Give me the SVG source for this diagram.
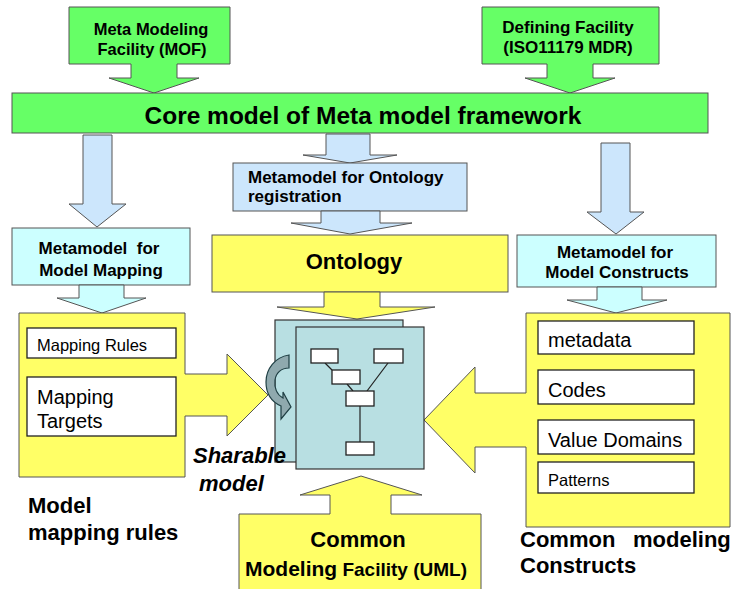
<svg xmlns="http://www.w3.org/2000/svg" width="733" height="589" viewBox="0 0 733 589">
<style>
.g{fill:#66ff66;stroke:#555;stroke-width:1}
.b{fill:#cce6fc;stroke:#555;stroke-width:1}
.c{fill:#ccffff;stroke:#555;stroke-width:1}
.y{fill:#ffff66;stroke:#555;stroke-width:1}
.pg{fill:#b8dfe2;stroke:#333;stroke-width:1.2}
.w{fill:#fff;stroke:#222;stroke-width:1.3}
.ln{stroke:#222;stroke-width:1.2;fill:none}
text{font-family:"Liberation Sans",Arial,sans-serif;fill:#000}
.t17{font-size:17px;font-weight:bold}
.t16{font-size:16.5px;font-weight:bold}
.t22{font-size:22px;font-weight:bold}
</style>
<rect width="733" height="589" fill="#fff"/>

<g id="mof">
<polygon class="g" points="69,7 230,7 230,64 177,64 177,78 199,78 154,93 109,78 131,78 131,64 69,64"/>
<text class="t16" x="151" y="35" text-anchor="middle">Meta Modeling</text>
<text class="t16" x="152" y="55" text-anchor="middle">Facility (MOF)</text>
</g>

<g id="mdr">
<polygon class="g" points="482,7 659,7 659,64 593,64 593,78 615,78 570,93 525,78 547,78 547,64 482,64"/>
<text class="t17" x="568" y="33" text-anchor="middle">Defining Facility</text>
<text class="t17" x="568" y="53" text-anchor="middle">(ISO11179 MDR)</text>
</g>

<g id="core">
<rect class="g" x="12" y="93" width="696" height="40"/>
<text x="363" y="124" text-anchor="middle" style="font-size:24.5px;font-weight:bold">Core model of Meta model framework</text>
</g>

<g id="connectors">
<polygon class="b" points="83,135 112,135 112,204 126,204 97,227 69,204 83,204"/>
<polygon class="b" points="326,134 370,134 370,155 397,155 350,163 303,155 326,155"/>
<polygon class="b" points="601,143 630,143 630,212 644,212 616,234 587,212 601,212"/>
</g>

<g id="mm-mapping">
<rect class="c" x="12" y="228" width="178" height="57"/>
<polygon class="c" points="79,285 124,285 124,298 146,298 102,313 57,298 79,298"/>
<text class="t17" x="99" y="254" text-anchor="middle" xml:space="preserve">Metamodel  for</text>
<text class="t17" x="101" y="276" text-anchor="middle">Model Mapping</text>
</g>

<g id="mm-ontology">
<rect class="b" x="233" y="163" width="234" height="48"/>
<polygon class="b" points="321,211 380,211 380,223 412,223 350,234 291,223 321,223"/>
<text class="t17" x="248" y="183">Metamodel for Ontology</text>
<text class="t17" x="248" y="202">registration</text>
</g>

<g id="mm-constructs">
<rect class="c" x="517" y="235" width="199" height="52"/>
<polygon class="c" points="597,287 642,287 642,300 667,300 616,313 567,300 597,300"/>
<text class="t17" x="615" y="258" text-anchor="middle">Metamodel for</text>
<text class="t17" x="617" y="278" text-anchor="middle">Model Constructs</text>
</g>

<g id="ontology">
<rect class="y" x="212" y="235" width="296" height="57"/>
<polygon class="y" points="324,292 380,292 380,307 435,307 357,319 277,307 324,307"/>
<text x="354" y="269" text-anchor="middle" style="font-size:22px;font-weight:bold">Ontology</text>
</g>

<g id="mapping-rules">
<polygon class="y" points="19,313 185,313 185,374 227,374 227,354 268,395 227,436 227,416 185,416 185,477 19,477"/>
<rect class="w" x="27" y="328" width="149" height="30"/>
<text x="37" y="351" style="font-size:16.5px">Mapping Rules</text>
<rect class="w" x="27" y="377" width="149" height="59"/>
<text x="37" y="404" style="font-size:20px">Mapping</text>
<text x="37" y="428" style="font-size:20px">Targets</text>
<text class="t22" x="28" y="513">Model</text>
<text class="t22" x="28" y="540">mapping rules</text>
</g>

<g id="constructs">
<polygon class="y" points="526,313 730,313 730,527 526,527 526,447 475,447 475,473 424,420 475,367 475,393 526,393"/>
<rect class="w" x="538" y="321" width="156" height="33"/>
<text x="548" y="347" style="font-size:20px">metadata</text>
<rect class="w" x="538" y="370" width="156" height="34"/>
<text x="548" y="397" style="font-size:20px">Codes</text>
<rect class="w" x="538" y="420" width="156" height="34"/>
<text x="548" y="447" style="font-size:20px">Value Domains</text>
<rect class="w" x="538" y="462" width="156" height="31"/>
<text x="548" y="486" style="font-size:16.5px">Patterns</text>
<text class="t22" x="520" y="547">Common</text>
<text class="t22" x="633" y="547">modeling</text>
<text class="t22" x="520" y="573">Constructs</text>
</g>

<g id="uml">
<polygon class="y" points="239,592 239,514 330,514 330,495 300,495 361,476 422,495 391,495 391,514 481,514 481,592"/>
<text class="t22" x="358" y="547" text-anchor="middle">Common</text>
<text x="245" y="576" style="font-weight:bold"><tspan style="font-size:21px">Modeling</tspan><tspan style="font-size:19px"> Facility (UML)</tspan></text>
</g>

<g id="sharable-model">
<rect class="pg" x="275" y="320" width="128" height="142"/>
<rect class="pg" x="296" y="327" width="128" height="142"/>
<line class="ln" x1="325" y1="363" x2="332" y2="370"/>
<line class="ln" x1="347" y1="384" x2="353" y2="391"/>
<line class="ln" x1="388" y1="363" x2="367" y2="391"/>
<line class="ln" x1="360" y1="406" x2="360" y2="442"/>
<rect class="w" x="311" y="349" width="27" height="14"/>
<rect class="w" x="374" y="349" width="29" height="14"/>
<rect class="w" x="332" y="370" width="28" height="14"/>
<rect class="w" x="346" y="391" width="28" height="15"/>
<rect class="w" x="346" y="442" width="28" height="13"/>
<path d="M289,355 C275,357 266,369 266,382 C266,394 272,402 281,406 L281,419 L291,407 L283,392 L283,398 C277,395 274,388 275,380 C276,373 281,368 289,368 Z" fill="#8fa9ae" stroke="#1f3f44" stroke-width="1.2"/>
<text x="193" y="463" style="font-size:22px;font-weight:bold;font-style:italic">Sharable</text>
<text x="199" y="491" style="font-size:22px;font-weight:bold;font-style:italic">model</text>
</g>
</svg>
